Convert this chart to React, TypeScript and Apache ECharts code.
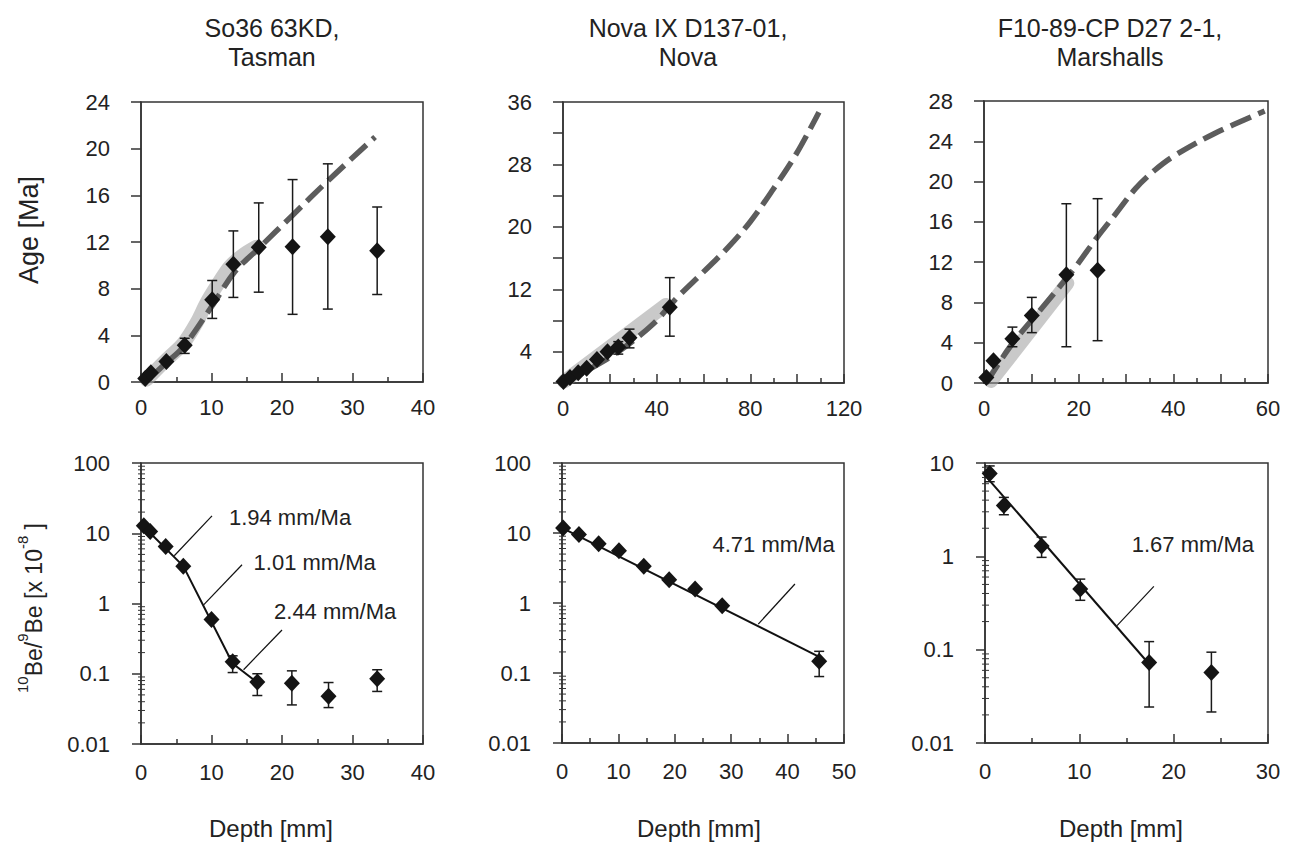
import React, { useEffect, useRef } from 'react';
import * as echarts from 'echarts';

const FONT = "'Liberation Sans', Arial, Helvetica, sans-serif";
const TXT = '#222';
const AX = '#333';

// ---------- Panel 1 : So36 63KD, Tasman ----------
const TL_DEPTH = [0.6, 1.4, 3.6, 6.2, 10.1, 13.1, 16.7, 21.5, 26.5, 33.5];
const TL_AGE = [0.3, 0.8, 1.75, 3.15, 7.05, 10.1, 11.55, 11.6, 12.45, 11.25];
const TL_AGE_LO = [null, null, null, 2.45, 5.45, 7.25, 7.7, 5.8, 6.25, 7.5];
const TL_AGE_HI = [null, null, null, 3.75, 8.7, 12.95, 15.35, 17.35, 18.7, 15.0];
const TL_MODEL_X = [1.0, 3.5, 6.0, 10.0, 13.3, 16.6, 21.5, 26.6, 33.2];
const TL_MODEL_Y = [0.2, 1.6, 3.0, 6.45, 9.45, 11.4, 14.3, 17.3, 21.0];
const TL_BAND_X = [0.8, 3.6, 6.0, 7.9, 9.3, 10.7, 12.6, 14.5, 16.4];
const TL_BAND_Y = [0.2, 1.9, 3.3, 5.1, 6.8, 8.2, 9.9, 10.9, 11.6];

const BL_DEPTH = [0.4, 1.3, 3.5, 6.0, 10.0, 13.0, 16.5, 21.4, 26.6, 33.5];
const BL_RATIO = [12.8, 10.6, 6.5, 3.4, 0.59, 0.148, 0.076, 0.073, 0.048, 0.085];
const BL_RATIO_LO = [null, null, null, null, null, 0.104, 0.049, 0.036, 0.033, 0.056];
const BL_RATIO_HI = [null, null, null, null, null, 0.18, 0.1, 0.11, 0.075, 0.114];
const BL_FIT_X = [0.2, 6.0, 13.0, 16.5];
const BL_FIT_Y = [13.0, 3.4, 0.14, 0.075];
const BL_RATES = ['1.94 mm/Ma', '1.01 mm/Ma', '2.44 mm/Ma'];
const BL_RATE_X = [12.4, 15.9, 18.8];
const BL_RATE_Y = [16.6, 3.8, 0.77];
const BL_LEADERS = [
  [[10.07, 17.7], [4.72, 4.78]],
  [[14.33, 3.56], [8.88, 0.958]],
  [[20.0, 0.42], [14.55, 0.114]],
];

// ---------- Panel 2 : Nova IX D137-01, Nova ----------
const TM_DEPTH = [0.2, 3.0, 6.5, 10.1, 14.5, 19.0, 23.6, 28.4, 45.6];
const TM_AGE = [0.2, 0.7, 1.3, 1.9, 3.0, 4.0, 4.6, 5.8, 9.7];
const TM_AGE_LO = [null, null, null, null, null, null, 3.7, 4.5, 6.0];
const TM_AGE_HI = [null, null, null, null, null, null, 5.3, 6.9, 13.5];
const TM_MODEL_X = [0, 10.3, 24.5, 38.6, 48.6, 59.9, 70.6, 79.8, 89.7, 99.7, 109.3];
const TM_MODEL_Y = [0, 1.6, 4.2, 7.6, 10.9, 14.2, 17.4, 20.6, 24.8, 29.4, 34.7];
const TM_BAND_X = [0.5, 44.0];
const TM_BAND_Y = [0.2, 10.0];

const BM_RATIO = [11.8, 9.5, 7.0, 5.6, 3.34, 2.15, 1.58, 0.914, 0.147];
const BM_RATIO_LO = [null, null, null, null, null, null, null, null, 0.089];
const BM_RATIO_HI = [null, null, null, null, null, null, null, null, 0.204];
const BM_FIT_X = [0, 45.6];
const BM_FIT_Y = [11.8, 0.17];
const BM_RATES = ['4.71 mm/Ma'];
const BM_RATE_X = [26.6];
const BM_RATE_Y = [6.8];
const BM_LEADERS = [[[41.3, 1.87], [34.8, 0.5]]];

// ---------- Panel 3 : F10-89-CP D27 2-1, Marshalls ----------
const TR_DEPTH = [0.5, 2.0, 6.0, 10.1, 17.4, 24.0];
const TR_AGE = [0.55, 2.2, 4.4, 6.7, 10.75, 11.2];
const TR_AGE_LO = [null, null, 3.6, 5.0, 3.6, 4.2];
const TR_AGE_HI = [null, null, 5.55, 8.5, 17.8, 18.3];
const TR_MODEL_X = [0.5, 5.5, 11.8, 18.8, 23.8, 28.0, 32.0, 36.0, 40.0, 48.4, 59.3];
const TR_MODEL_Y = [0, 3.6, 7.2, 11.2, 14.4, 16.9, 19.3, 21.1, 22.5, 24.7, 27.0];
const TR_BAND_X = [1.5, 17.6];
const TR_BAND_Y = [0.2, 9.9];

const BR_RATIO = [7.7, 3.5, 1.29, 0.447, 0.073, 0.057];
const BR_RATIO_LO = [6.3, 2.79, 0.975, 0.338, 0.0243, 0.0215];
const BR_RATIO_HI = [9.3, 4.28, 1.61, 0.57, 0.122, 0.094];
const BR_FIT_X = [0.1, 17.3];
const BR_FIT_Y = [7.2, 0.072];
const BR_RATES = ['1.67 mm/Ma'];
const BR_RATE_X = [15.5];
const BR_RATE_Y = [1.33];
const BR_LEADERS = [[[17.9, 0.477], [14.0, 0.181]]];

const TITLES = [['So36 63KD,', 'Tasman'], ['Nova IX D137-01,', 'Nova'], ['F10-89-CP D27 2-1,', 'Marshalls']];
const MINOR_MULT = [2, 3, 4, 5, 6, 7, 8, 9];

const GRIDS = [
  { left: 141, top: 102, width: 282, height: 280 },
  { left: 563, top: 102, width: 281, height: 281 },
  { left: 984, top: 101, width: 284, height: 282 },
  { left: 141, top: 463, width: 282, height: 281 },
  { left: 562, top: 463, width: 282, height: 280 },
  { left: 985, top: 463, width: 283, height: 280 },
];

const TICK_FS = 22;
const zip = (xs: number[], ys: number[]) => xs.map((x, i) => [x, ys[i]]);

function xAxis(gi: number, max: number, interval: number, labelEvery: number, margin: number) {
  return {
    type: 'value', gridIndex: gi, min: 0, max, interval,
    axisLine: { show: true, onZero: false, lineStyle: { color: AX, width: 1.5 } },
    axisTick: { show: true, inside: true, length: 9, lineStyle: { color: AX, width: 1.5 } },
    minorTick: { show: true, splitNumber: 2, length: 5, lineStyle: { color: AX, width: 1.5 } },
    splitLine: { show: false },
    axisLabel: {
      fontSize: TICK_FS, color: TXT, fontFamily: FONT, margin,
      formatter: (v: number) => (Math.abs(v % labelEvery) < 1e-9 ? String(v) : ''),
    },
  };
}

function yValAxis(gi: number, max: number, labelFn: (v: number) => string) {
  return {
    type: 'value', gridIndex: gi, min: 0, max, interval: 4,
    axisLine: { show: true, onZero: false, lineStyle: { color: AX, width: 1.5 } },
    axisTick: { show: true, inside: false, length: 10, lineStyle: { color: AX, width: 1.5 } },
    splitLine: { show: false },
    axisLabel: { fontSize: TICK_FS, color: TXT, fontFamily: FONT, margin: 31, formatter: labelFn },
  };
}

function yLogAxis(gi: number, min: number, max: number) {
  return {
    type: 'log', logBase: 10, gridIndex: gi, min, max,
    axisLine: { show: true, onZero: false, lineStyle: { color: AX, width: 1.5 } },
    axisTick: { show: true, inside: false, length: 9, lineStyle: { color: AX, width: 1.5 } },
    splitLine: { show: false },
    axisLabel: { fontSize: TICK_FS, color: TXT, fontFamily: FONT, margin: 31, formatter: (v: number) => String(+v.toPrecision(6)) },
  };
}

function diamonds(gi: number, xs: number[], ys: number[]) {
  return {
    type: 'scatter', xAxisIndex: gi, yAxisIndex: gi, symbol: 'diamond', symbolSize: [16, 17],
    itemStyle: { color: '#141414', opacity: 1 }, data: zip(xs, ys), z: 6, silent: true,
  };
}

function errBars(gi: number, xs: number[], lo: (number | null)[], hi: (number | null)[]) {
  const data: number[][] = [];
  xs.forEach((x, i) => { if (lo[i] != null && hi[i] != null) data.push([x, lo[i] as number, hi[i] as number]); });
  return {
    type: 'custom', xAxisIndex: gi, yAxisIndex: gi, z: 5, silent: true,
    encode: { x: 0, y: [1, 2] },
    data,
    renderItem: (_p: any, api: any) => {
      const x = api.value(0);
      const a = api.coord([x, api.value(1)]);
      const b = api.coord([x, api.value(2)]);
      const w = 5;
      const st = { stroke: '#1a1a1a', lineWidth: 1.5 };
      return {
        type: 'group',
        children: [
          { type: 'line', shape: { x1: a[0], y1: a[1], x2: b[0], y2: b[1] }, style: st },
          { type: 'line', shape: { x1: a[0] - w, y1: a[1], x2: a[0] + w, y2: a[1] }, style: st },
          { type: 'line', shape: { x1: b[0] - w, y1: b[1], x2: b[0] + w, y2: b[1] }, style: st },
        ],
      };
    },
  };
}

function line(gi: number, xs: number[], ys: number[], lineStyle: any, z: number, smooth: any = false) {
  return {
    type: 'line', xAxisIndex: gi, yAxisIndex: gi, data: zip(xs, ys), showSymbol: false, symbol: 'none',
    smooth, lineStyle, z, silent: true, clip: true,
  };
}

function band(gi: number, xs: number[], ys: number[]) {
  return line(gi, xs, ys, { color: 'rgba(165,165,165,0.6)', width: 14, cap: 'round', join: 'round' }, 2, 0.3);
}

function model(gi: number, xs: number[], ys: number[]) {
  return line(gi, xs, ys, { color: '#5c5c5c', width: 5.5, type: [22, 8], cap: 'butt' }, 3, 0.35);
}

function fit(gi: number, xs: number[], ys: number[]) {
  return line(gi, xs, ys, { color: '#111', width: 2 }, 4);
}

function leaders(gi: number, segs: number[][][]) {
  return segs.map((s) => line(gi, [s[0][0], s[1][0]], [s[0][1], s[1][1]], { color: '#111', width: 1.2 }, 4));
}

function rateLabels(gi: number, xs: number[], ys: number[], texts: string[]) {
  return {
    type: 'scatter', xAxisIndex: gi, yAxisIndex: gi, symbolSize: 1, itemStyle: { color: 'rgba(0,0,0,0)', opacity: 1 },
    z: 7, silent: true,
    data: xs.map((x, i) => ({ value: [x, ys[i]], label: { formatter: texts[i] } })),
    label: { show: true, position: 'right', distance: 0, fontSize: 22, color: TXT, fontFamily: FONT, opacity: 1 },
  };
}

function minorLogTicks(gi: number, minExp: number, maxExp: number) {
  const data: number[][] = [];
  for (let e = minExp; e < maxExp; e++) MINOR_MULT.forEach((m) => data.push([0, m * Math.pow(10, e)]));
  return {
    type: 'custom', xAxisIndex: gi, yAxisIndex: gi, z: 3, silent: true, encode: { x: 0, y: 1 }, data,
    renderItem: (_p: any, api: any) => {
      const p = api.coord([0, api.value(1)]);
      return { type: 'line', shape: { x1: p[0] - 3, y1: p[1], x2: p[0] + 4, y2: p[1] }, style: { stroke: AX, lineWidth: 1 } };
    },
  };
}

function buildOption() {
  const g: any[] = [];
  const titleX = [272, 688, 1110];
  TITLES.forEach((t, i) => {
    g.push({
      type: 'text', x: titleX[i], y: 28,
      style: { text: t[0], fontSize: 25, fontFamily: FONT, fill: TXT, textAlign: 'center', textVerticalAlign: 'middle' },
    });
    g.push({
      type: 'text', x: titleX[i], y: 57,
      style: { text: t[1], fontSize: 25, fontFamily: FONT, fill: TXT, textAlign: 'center', textVerticalAlign: 'middle' },
    });
  });
  const depthX = [271, 699, 1121];
  depthX.forEach((x) => g.push({
    type: 'text', x, y: 828,
    style: { text: 'Depth [mm]', fontSize: 24, fontFamily: FONT, fill: TXT, textAlign: 'center', textVerticalAlign: 'middle' },
  }));
  g.push({
    type: 'text', x: 29, y: 230, rotation: Math.PI / 2,
    style: { text: 'Age [Ma]', fontSize: 27, fontFamily: FONT, fill: TXT, textAlign: 'center', textVerticalAlign: 'middle' },
  });
  g.push({
    type: 'text', x: 30, y: 608, rotation: Math.PI / 2,
    style: {
      text: '{s|10}{n|Be/}{s|9}{n|Be [x 10}{s|-8}{n| ]}',
      fontFamily: FONT, fill: TXT, textAlign: 'center', textVerticalAlign: 'middle',
      rich: {
        n: { fontSize: 23, fontFamily: FONT, fill: TXT, verticalAlign: 'bottom', lineHeight: 30 },
        s: { fontSize: 15, fontFamily: FONT, fill: TXT, verticalAlign: 'top', lineHeight: 30 },
      },
    },
  });

  const tmLabel = (v: number) => ((v - 4) % 8 === 0 ? String(v) : '');

  return {
    animation: false,
    backgroundColor: '#ffffff',
    textStyle: { fontFamily: FONT },
    grid: GRIDS.map((gr) => ({ ...gr, show: true, borderColor: AX, borderWidth: 1.5, backgroundColor: 'transparent' })),
    xAxis: [
      xAxis(0, 40, 10, 10, 14),
      xAxis(1, 120, 20, 40, 14),
      xAxis(2, 60, 10, 20, 14),
      xAxis(3, 40, 10, 10, 17),
      xAxis(4, 50, 10, 10, 17),
      xAxis(5, 30, 10, 10, 17),
    ],
    yAxis: [
      yValAxis(0, 24, (v) => String(v)),
      yValAxis(1, 36, tmLabel),
      yValAxis(2, 28, (v) => String(v)),
      yLogAxis(3, 0.01, 100),
      yLogAxis(4, 0.01, 100),
      yLogAxis(5, 0.01, 10),
    ],
    series: [
      band(0, TL_BAND_X, TL_BAND_Y),
      model(0, TL_MODEL_X, TL_MODEL_Y),
      errBars(0, TL_DEPTH, TL_AGE_LO, TL_AGE_HI),
      diamonds(0, TL_DEPTH, TL_AGE),

      band(1, TM_BAND_X, TM_BAND_Y),
      model(1, TM_MODEL_X, TM_MODEL_Y),
      errBars(1, TM_DEPTH, TM_AGE_LO, TM_AGE_HI),
      diamonds(1, TM_DEPTH, TM_AGE),

      band(2, TR_BAND_X, TR_BAND_Y),
      model(2, TR_MODEL_X, TR_MODEL_Y),
      errBars(2, TR_DEPTH, TR_AGE_LO, TR_AGE_HI),
      diamonds(2, TR_DEPTH, TR_AGE),

      minorLogTicks(3, -2, 2),
      fit(3, BL_FIT_X, BL_FIT_Y),
      ...leaders(3, BL_LEADERS),
      errBars(3, BL_DEPTH, BL_RATIO_LO, BL_RATIO_HI),
      diamonds(3, BL_DEPTH, BL_RATIO),
      rateLabels(3, BL_RATE_X, BL_RATE_Y, BL_RATES),

      minorLogTicks(4, -2, 2),
      fit(4, BM_FIT_X, BM_FIT_Y),
      ...leaders(4, BM_LEADERS),
      errBars(4, TM_DEPTH, BM_RATIO_LO, BM_RATIO_HI),
      diamonds(4, TM_DEPTH, BM_RATIO),
      rateLabels(4, BM_RATE_X, BM_RATE_Y, BM_RATES),

      minorLogTicks(5, -2, 1),
      fit(5, BR_FIT_X, BR_FIT_Y),
      ...leaders(5, BR_LEADERS),
      errBars(5, TR_DEPTH, BR_RATIO_LO, BR_RATIO_HI),
      diamonds(5, TR_DEPTH, BR_RATIO),
      rateLabels(5, BR_RATE_X, BR_RATE_Y, BR_RATES),
    ],
    graphic: g,
  };
}

export default function App() {
  const ref = useRef<HTMLDivElement>(null);
  useEffect(() => {
    document.body.style.margin = '0';
    const chart = echarts.init(ref.current as HTMLDivElement, null, { renderer: 'svg' });
    chart.setOption(buildOption() as any);
    return () => chart.dispose();
  }, []);
  return <div ref={ref} style={{ width: 1291, height: 843, background: '#fff' }} />;
}
